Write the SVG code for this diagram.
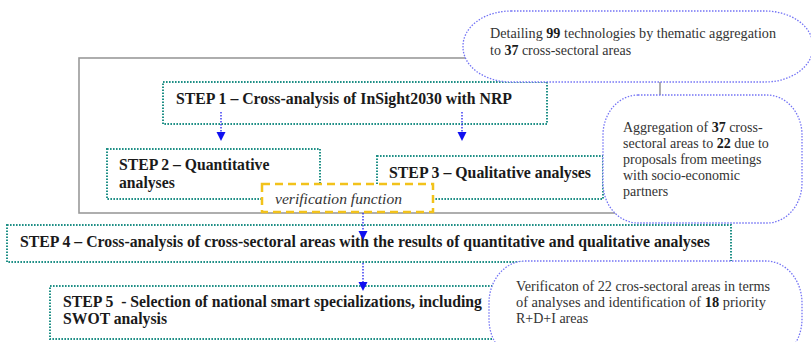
<svg xmlns="http://www.w3.org/2000/svg" width="811" height="342" viewBox="0 0 811 342" font-family="'Liberation Serif', 'DejaVu Serif', serif">
<style>
text{font-family:'Liberation Serif','DejaVu Serif',serif;}
.step{fill:#fff;stroke:#1f8f86;stroke-width:2;stroke-dasharray:1.6 1.4;}
.bubble{fill:#fff;stroke:#7474f5;stroke-width:1.3;stroke-dasharray:1.5 1.5;}
.sb{font-weight:bold;font-size:15.7px;fill:#1a1a1a;}
.nt{font-size:14px;fill:#333;}
.b{font-weight:bold;fill:#1a1a1a;}
.ar{stroke:#3030f0;stroke-width:1.4;stroke-dasharray:1.5 1.5;fill:none;}
.ah{fill:#1010f0;}
</style>
<g id="frame">
<rect x="79" y="58" width="581" height="155" fill="#fff" stroke="#9a9a9a" stroke-width="1.6"/>
</g>
<g id="step1">
<rect class="step" x="163" y="82" width="384" height="42"/>
<text class="sb" x="176" y="104" textLength="336" lengthAdjust="spacingAndGlyphs">STEP 1 – Cross-analysis of InSight2030 with NRP</text>
</g>
<g id="step2">
<rect class="step" x="107" y="149" width="213" height="50"/>
<text class="sb" x="119" y="170">STEP 2 – Quantitative</text>
<text class="sb" x="119" y="188">analyses</text>
</g>
<g id="step3">
<rect class="step" x="377" y="156" width="226" height="43"/>
<text class="sb" x="389" y="178" textLength="202" lengthAdjust="spacingAndGlyphs">STEP 3 – Qualitative analyses</text>
</g>
<g id="verification-function">
<rect x="262" y="184" width="171" height="28" fill="#fff" stroke="#f2c21b" stroke-width="2.5" stroke-dasharray="8 5"/>
<text x="275" y="204" font-style="italic" font-size="15.5" fill="#333" textLength="127" lengthAdjust="spacingAndGlyphs">verification function</text>
</g>
<g id="note-detailing">
<rect class="bubble" x="463" y="11" width="350" height="71" rx="48" ry="35"/>
<text class="nt" x="490" y="38" textLength="286" lengthAdjust="spacingAndGlyphs">Detailing <tspan class="b">99</tspan> technologies by thematic aggregation</text>
<text class="nt" x="490" y="55">to <tspan class="b">37</tspan> cross-sectoral areas</text>
</g>
<g id="note-aggregation">
<rect class="bubble" x="603" y="95" width="199" height="128" rx="35" ry="40"/>
<text class="nt" x="623" y="132">Aggregation of <tspan class="b">37</tspan> cross-</text>
<text class="nt" x="623" y="148">sectoral areas to <tspan class="b">22</tspan> due to</text>
<text class="nt" x="623" y="164">proposals from meetings</text>
<text class="nt" x="623" y="180">with socio-economic</text>
<text class="nt" x="623" y="196">partners</text>
</g>
<g id="step4">
<rect class="step" x="7" y="225" width="724" height="37"/>
<text class="sb" x="20" y="247" font-size="16" textLength="690" lengthAdjust="spacingAndGlyphs">STEP 4 – Cross-analysis of cross-sectoral areas with the results of quantitative and qualitative analyses</text>
</g>
<g id="step5">
<rect class="step" x="50" y="286" width="460" height="53"/>
<text class="sb" x="63" y="307" font-size="16" textLength="419" lengthAdjust="spacingAndGlyphs">STEP 5&#160; - Selection of national smart specializations, including</text>
<text class="sb" x="63" y="324" font-size="16" textLength="104" lengthAdjust="spacingAndGlyphs">SWOT analysis</text>
</g>
<g id="note-verification">
<rect class="bubble" x="489" y="261" width="313" height="100" rx="36" ry="42"/>
<text class="nt" x="516" y="291" font-size="15" textLength="254" lengthAdjust="spacingAndGlyphs">Verificaton of 22 cros-sectoral areas in terms</text>
<text class="nt" x="516" y="307" font-size="15" textLength="250" lengthAdjust="spacingAndGlyphs">of analyses and identification of <tspan class="b">18</tspan> priority</text>
<text class="nt" x="516" y="323" font-size="15">R+D+I areas</text>
</g>
<g id="connectors">
<line class="ar" x1="221" y1="112" x2="221" y2="132"/>
<polygon class="ah" points="216.5,132 225.5,132 221,141"/>
<line class="ar" x1="462" y1="112" x2="462" y2="132"/>
<polygon class="ah" points="457.5,132 466.5,132 462,141"/>
<line class="ar" x1="363" y1="213" x2="363" y2="231"/>
<polygon class="ah" points="358.5,231 367.5,231 363,240"/>
<line class="ar" x1="363" y1="263" x2="363" y2="282"/>
<polygon class="ah" points="358.5,282 367.5,282 363,291"/>
</g>
</svg>
